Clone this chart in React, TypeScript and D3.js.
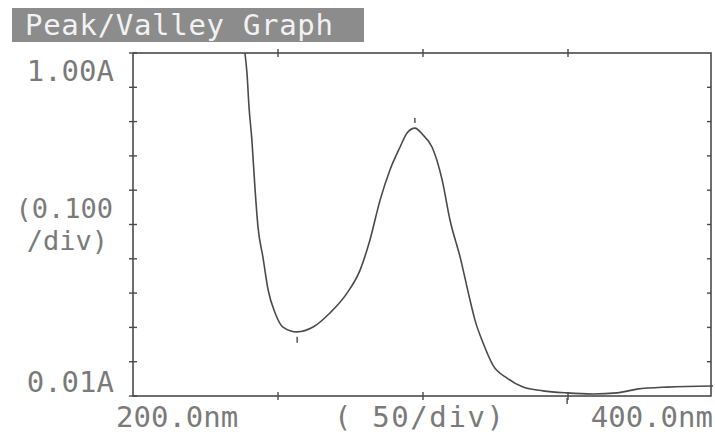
import React, { useEffect, useRef } from "react";
import * as d3 from "d3";

// spectrum (nm, absorbance)
const wavelengths = [238.6, 239.3, 240.0, 241.0, 242.1, 243.1, 244.8, 246.6, 249.0, 251.7, 256.6, 262.1, 267.9, 273.8, 278.3, 281.7, 285.2, 288.6, 292.1, 294.5, 297.2, 300.0, 303.1, 306.6, 309.3, 312.8, 316.2, 317.9, 320.7, 324.1, 329.0, 334.5, 341.4, 349.7, 358.6, 366.9, 373.8, 384.1, 400.0];
const absorbance = [1.0, 0.942, 0.843, 0.746, 0.601, 0.493, 0.405, 0.309, 0.242, 0.201, 0.187, 0.201, 0.242, 0.3, 0.367, 0.455, 0.571, 0.659, 0.726, 0.767, 0.781, 0.761, 0.726, 0.63, 0.513, 0.405, 0.28, 0.222, 0.155, 0.09, 0.052, 0.026, 0.015, 0.009, 0.006, 0.009, 0.02, 0.026, 0.029];

const peakAt = [297.2];
const valleyAt = [256.6, 349.7];

const xTicks = [200, 250, 300, 350, 400];
const yTicks = [0, 0.1, 0.2, 0.3, 0.4, 0.5, 0.6, 0.7, 0.8, 0.9, 1.0];

const yLabelTop = "1.00A";
const yLabelMid = ["(0.100", "/div)"];
const yLabelBottom = "0.01A";
const xLabelLeft = "200.0nm";
const xLabelMid = "( 50/div)";
const xLabelRight = "400.0nm";
const title = "Peak/Valley Graph";

const W = 715;
const H = 438;

const App = () => {
    const svgRef = useRef<SVGSVGElement>(null);

    useEffect(() => {
        const svg = d3.select(svgRef.current);
        svg.selectAll("*").remove();

        const left = 133, right = 711, top = 53, bottom = 396;
        const x = d3.scaleLinear().domain([200, 400]).range([left, 713]);
        const y = d3.scaleLinear().domain([0, 1]).range([bottom, top]);

        const ink = "#4a4a4a";
        const font = "'DejaVu Sans Mono', monospace";

        // title bar
        svg.append("rect")
            .attr("x", 12).attr("y", 8)
            .attr("width", 352).attr("height", 34)
            .attr("fill", "#8c8c8c");
        svg.append("text")
            .attr("x", 25).attr("y", 35)
            .attr("textLength", 308)
            .attr("font-family", font)
            .attr("font-size", 29)
            .attr("fill", "#f2f2f2")
            .text(title);

        // frame
        svg.append("rect")
            .attr("x", left).attr("y", top)
            .attr("width", right - left).attr("height", bottom - top)
            .attr("fill", "none")
            .attr("stroke", ink)
            .attr("stroke-width", 1.6);

        // left axis ticks (cross the line)
        svg.append("g").selectAll("line")
            .data(yTicks)
            .enter().append("line")
            .attr("x1", left - 4).attr("x2", left + 4)
            .attr("y1", d => y(d)).attr("y2", d => y(d))
            .attr("stroke", ink).attr("stroke-width", 1.4);

        // right edge ticks (inside)
        svg.append("g").selectAll("line")
            .data(yTicks.slice(1, -1))
            .enter().append("line")
            .attr("x1", right - 4).attr("x2", right)
            .attr("y1", d => y(d)).attr("y2", d => y(d))
            .attr("stroke", ink).attr("stroke-width", 1.4);

        // top and bottom ticks
        const inner = xTicks.slice(1, -1);
        [top, bottom].forEach(yy => {
            svg.append("g").selectAll("line")
                .data(inner)
                .enter().append("line")
                .attr("x1", d => x(d)).attr("x2", d => x(d))
                .attr("y1", yy - 4).attr("y2", yy + 4)
                .attr("stroke", ink).attr("stroke-width", 1.4);
        });

        // spectrum
        const pts = wavelengths.map((w, i) => [w, absorbance[i]] as [number, number]);
        const line = d3.line<[number, number]>()
            .x(d => x(d[0]))
            .y(d => y(d[1]))
            .curve(d3.curveMonotoneX);
        svg.append("path")
            .datum(pts)
            .attr("d", line)
            .attr("fill", "none")
            .attr("stroke", ink)
            .attr("stroke-width", 1.6);

        // peak / valley markers
        const nearest = (w: number) => pts.reduce((a, b) => Math.abs(b[0] - w) < Math.abs(a[0] - w) ? b : a);
        peakAt.forEach(w => {
            const p = nearest(w);
            svg.append("line")
                .attr("x1", x(p[0])).attr("x2", x(p[0]))
                .attr("y1", y(p[1]) - 10).attr("y2", y(p[1]) - 5)
                .attr("stroke", ink).attr("stroke-width", 1.4);
        });
        valleyAt.forEach(w => {
            const p = nearest(w);
            svg.append("line")
                .attr("x1", x(p[0])).attr("x2", x(p[0]))
                .attr("y1", y(p[1]) + 5).attr("y2", y(p[1]) + 11)
                .attr("stroke", ink).attr("stroke-width", 1.4);
        });

        // labels
        const label = (t: string, xx: number, yy: number, anchor: string, size = 29) =>
            svg.append("text")
                .attr("x", xx).attr("y", yy)
                .attr("text-anchor", anchor)
                .attr("font-family", font)
                .attr("font-size", size)
                .attr("fill", "#7a7a7a")
                .text(t);

        label(yLabelTop, 114, 81, "end");
        label(yLabelMid[0], 113, 218, "end", 27);
        label(yLabelMid[1], 108, 250, "end", 27);
        label(yLabelBottom, 114, 392, "end");
        label(xLabelLeft, 116, 427, "start");
        label(xLabelMid, 334, 427, "start").attr("textLength", 170);
        label(xLabelRight, 713, 427, "end");
    }, []);

    return (
        <svg
            ref={svgRef}
            width={W}
            height={H}
            style={{ position: "absolute", left: 0, top: 0, background: "#fff" }}
        />
    );
};

export default App;
